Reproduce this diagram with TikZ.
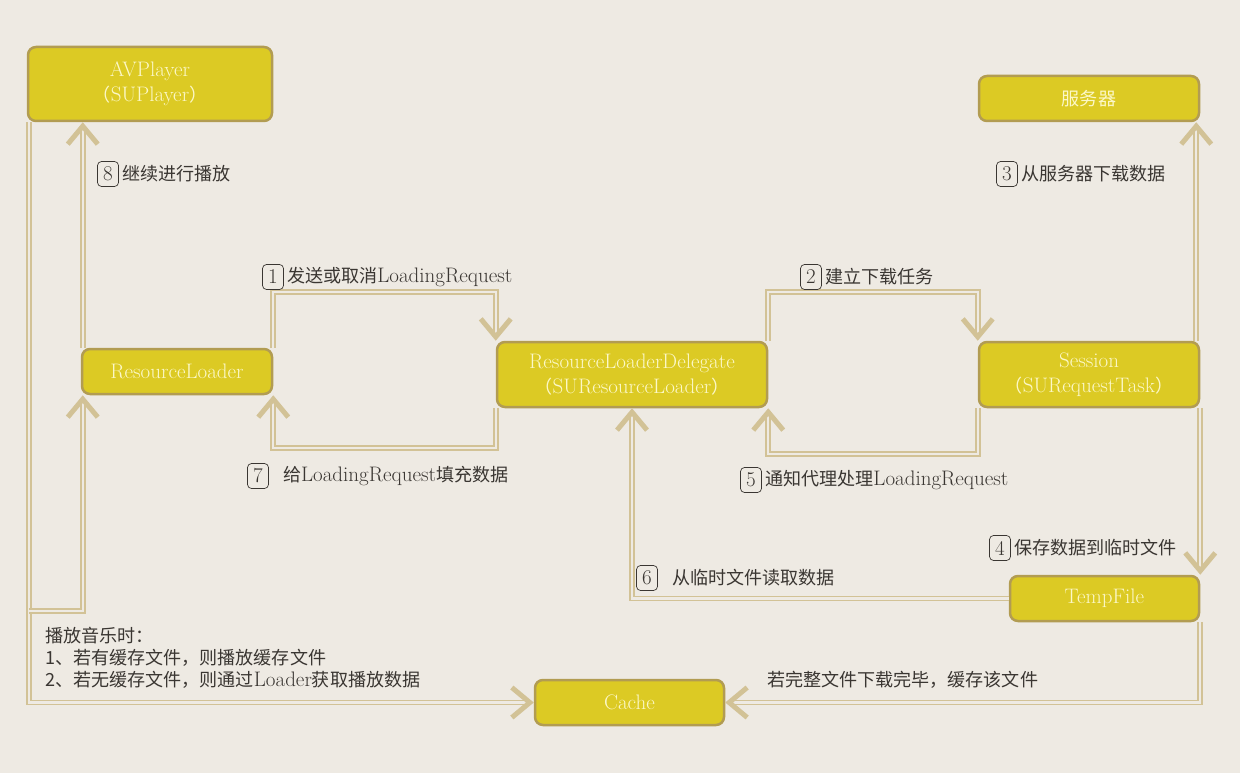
\documentclass[tikz,border=0pt]{standalone}
\usepackage{fontspec}
\newfontfamily\cjk[Scale=0.86]{Noto Sans CJK SC}
\newcommand{\zh}[1]{{\cjk #1}}
\usepackage{tikz}
\usetikzlibrary{arrows.meta,positioning,calc}
\definecolor{paper}{HTML}{EEEAE3}
\definecolor{boxfill}{HTML}{DCCA24}
\definecolor{boxline}{HTML}{B29C52}
\definecolor{boxtext}{HTML}{FCF8C8}
\definecolor{wirecol}{HTML}{D2C296}
\definecolor{ink}{HTML}{3A3632}

\begin{document}
\begin{tikzpicture}[x=1pt,y=-1pt,
    font=\fontsize{21}{25}\selectfont,
    box/.style={draw=boxline, line width=2.5pt, fill=boxfill, rounded corners=8pt,
        text=boxtext, align=center, inner sep=0pt},
    wire/.style={draw=wirecol, line width=1.6pt, double=paper, double distance=2.4pt},
    tip/.style={-{Straight Barb[length=18pt,width=30pt,line width=5pt]}},
    numbox/.style={draw=ink, line width=0.7pt, rounded corners=4pt, minimum width=21pt,
        minimum height=25pt, inner sep=0pt, text=ink},
    lbl/.style={text=ink, inner sep=0pt, anchor=west}]
    % Paper background
    \fill[paper] (0,0) rectangle (1240,773);
    \useasboundingbox (0,0) rectangle (1240,773);

    % The boxes
    \node[box, minimum width=244pt, minimum height=74pt] (player) at (150,84)
        {AVPlayer\\\zh{（}SUPlayer\zh{）}};
    \node[box, minimum width=220pt, minimum height=45pt] (server) at (1089,98.5) {\zh{服务器}};
    \node[box, minimum width=190pt, minimum height=45pt] (loader) at (177,371.5) {ResourceLoader};
    \node[box, minimum width=270pt, minimum height=65pt] (delegate) at (632,374.5)
        {ResourceLoaderDelegate\\\zh{（}SUResourceLoader\zh{）}};
    \node[box, minimum width=220pt, minimum height=65pt] (session) at (1089,374.5)
        {Session\\\zh{（}SURequestTask\zh{）}};
    \node[box, minimum width=189pt, minimum height=45pt] (tempfile) at (1104.5,598.5) {TempFile};
    \node[box, minimum width=189pt, minimum height=45pt] (cache) at (629.5,702.5) {Cache};

    % Connectors between the boxes
    \draw[wire,tip] (loader.north east) -- ++(0,-56) -| (delegate.north west);
    \draw[wire,tip] (delegate.south west) -- ++(0,40) -| (loader.south east);
    \draw[wire,tip] (delegate.north east) -- ++(0,-49) -| (session.north west);
    \draw[wire,tip] (session.south west) -- ++(0,46) -| (delegate.south east);
    \draw[wire,tip] ([xshift=-4pt]session.north east) -- ([xshift=-4pt]server.south east);
    \draw[wire,tip] (session.south east) -- (tempfile.north east);
    \draw[wire,tip] (tempfile.west) -| (delegate.south);
    \draw[wire,tip] (tempfile.south east) |- (cache.east);
    \draw[wire,tip] ([xshift=2pt]loader.north west) -- ([xshift=2pt]loader.north west |- player.south);

    % Left side: playing from cache or through the loader
    \draw[wire,tip] ([xshift=2pt]player.south west) |- (cache.west);
    \coordinate (split) at ([xshift=2pt]player.south west |- 0,611);
    \draw[wire,tip] (split) -| ([xshift=2pt]loader.south west);

    % Step labels
    \node[numbox] (n8) at (108,174) {8};
    \node[lbl, right=3pt of n8] (l8) {\zh{继续进行播放}};
    \node[numbox] (n3) at (1007,174) {3};
    \node[lbl, right=3pt of n3] (l3) {\zh{从服务器下载数据}};
    \node[numbox] (n1) at (273,277) {1};
    \node[lbl, right=3pt of n1] (l1) {\zh{发送或取消}LoadingRequest};
    \node[numbox] (n2) at (811,277) {2};
    \node[lbl, right=3pt of n2] (l2) {\zh{建立下载任务}};
    \node[numbox] (n7) at (258,476) {7};
    \node[lbl, right=14pt of n7] (l7) {\zh{给}LoadingRequest\zh{填充数据}};
    \node[numbox] (n5) at (751,480) {5};
    \node[lbl, right=3pt of n5] (l5) {\zh{通知代理处理}LoadingRequest};
    \node[numbox] (n4) at (1000,548) {4};
    \node[lbl, right=3pt of n4] (l4) {\zh{保存数据到临时文件}};
    \node[numbox] (n6) at (647,578) {6};
    \node[lbl, right=14pt of n6] (l6) {\zh{从临时文件读取数据}};

    % Notes
    \node[lbl] (savenote) at (767,680) {\zh{若完整文件下载完毕，缓存该文件}};
    \node[lbl, align=left, font=\fontsize{21}{22}\selectfont] (playnote) at (45,658)
        {\zh{播放音乐时：}\\\zh{1、若有缓存文件，则播放缓存文件}\\\zh{2、若无缓存文件，则通过}Loader\zh{获取播放数据}};
\end{tikzpicture}
\end{document}
